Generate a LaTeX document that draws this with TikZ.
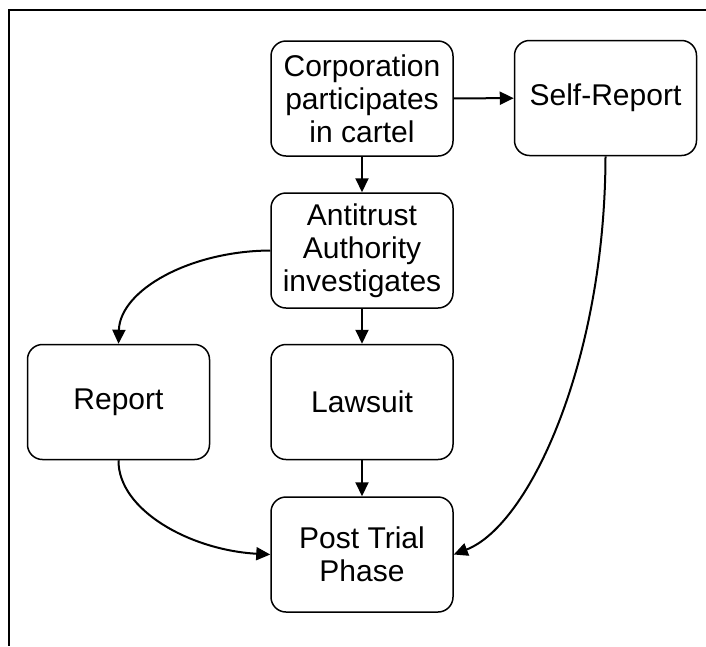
\documentclass[tikz,border=0pt]{standalone}
\usepackage{fontspec}
\setmainfont{Liberation Sans}
\usetikzlibrary{arrows.meta}

\tikzset{
	stage/.style={draw, line width=1.5pt, rounded corners=15pt, align=center,
		minimum width=182pt, minimum height=115pt, inner sep=0pt,
		font=\fontsize{30}{33}\selectfont},
	flow/.style={line width=2pt, -{Triangle[length=14pt,width=13pt]}}
}

\begin{document}
\begin{tikzpicture}[x=1pt,y=-1pt]

\useasboundingbox (0,0) rectangle (706,646);
% 外框只有上边和左边
\draw [line width=1.6pt] (706,10) -- (9,10) -- (9,646);

\node [stage] (corp)    at (362,98.5)  {Corporation\\participates\\in cartel};
\node [stage] (self)    at (605.5,98)  {Self-Report};
\node [stage] (anti)    at (362,250.5) {Antitrust\\Authority\\investigates};
\node [stage] (report)  at (118.5,402) {Report};
\node [stage] (lawsuit) at (362,402)   {Lawsuit};
\node [stage] (post)    at (362,554.5) {Post Trial\\Phase};

\draw [flow] (corp) -- (self);
\draw [flow] (corp) -- (anti);
\draw [flow] (anti) -- (lawsuit);
\draw [flow] (lawsuit) -- (post);
\draw [flow] (anti.west) .. controls (190,251) and (120,290) .. (report.north);
\draw [flow] (report.south) .. controls (118,510) and (190,550) .. (post.west);
\draw [flow] (self.south) .. controls (605,360) and (530,525) .. (post.east);

\end{tikzpicture}
\end{document}
